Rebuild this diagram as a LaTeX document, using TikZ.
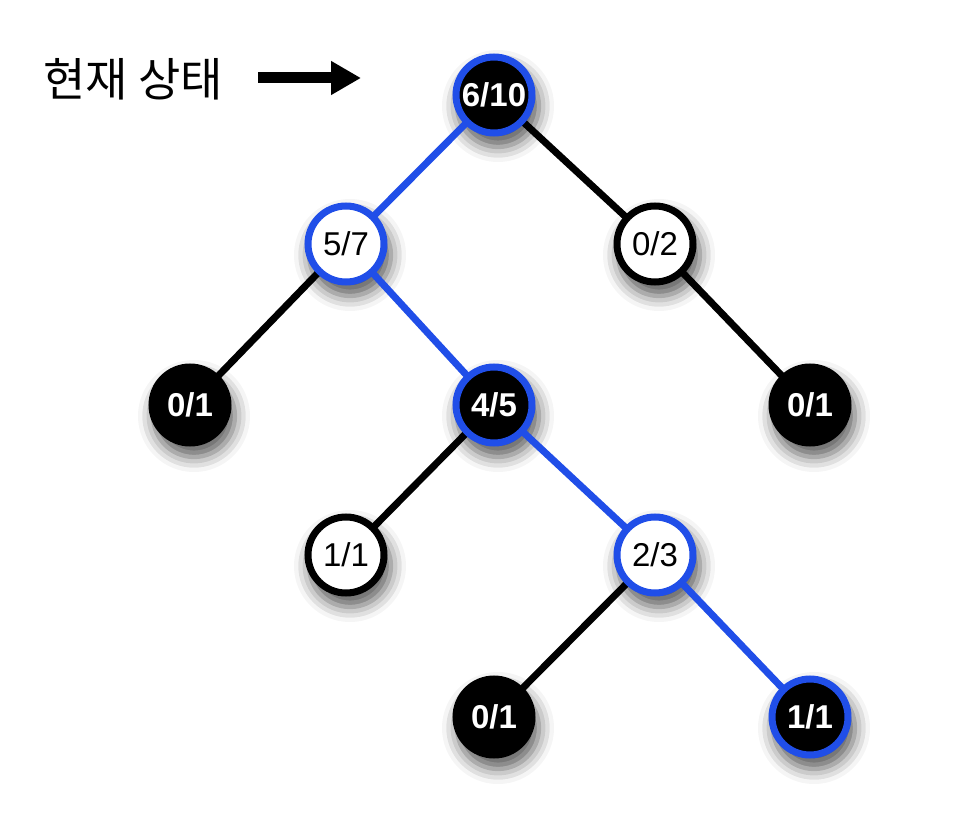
\documentclass[tikz,border=0pt]{standalone}
\usepackage{fontspec}
\setmainfont{Liberation Sans}
\newfontfamily\kor{Noto Sans CJK KR}
\usetikzlibrary{shadows.blur,arrows.meta,backgrounds}
\pgfdeclarelayer{shadowlayer}
\pgfdeclarelayer{edgelayer}
\pgfsetlayers{shadowlayer,edgelayer,main}
\definecolor{selblue}{RGB}{32,78,232}
\tikzset{
  x=1pt,y=-1pt,
  nd/.style={circle,minimum size=76pt,inner sep=0pt,line width=7pt,font=\fontsize{33}{33}\selectfont},
  sh/.style={circle,minimum size=82pt,inner sep=0pt,
    blur shadow={shadow xshift=4pt,shadow yshift=-11pt,shadow blur radius=15pt,shadow opacity=65}},
  bn/.style={nd,fill=black,draw=black,text=white,font=\fontsize{33}{33}\selectfont\bfseries},
  bbn/.style={bn,draw=selblue},
  wn/.style={nd,fill=white,draw=black,text=black},
  wbn/.style={wn,draw=selblue},
  edge/.style={line width=7pt,draw=black},
  bedge/.style={line width=7pt,draw=selblue},
}
\begin{document}
\begin{tikzpicture}
\useasboundingbox (0,0) rectangle (954,826);
\node[bbn] (r) at (494,95) {6/10};
\node[wbn] (a) at (346,244) {5/7};
\node[wn] (b) at (655,244) {0/2};
\node[bn] (c) at (190,405) {0/1};
\node[bbn] (d) at (494,405) {4/5};
\node[bn] (e) at (810,405) {0/1};
\node[wn] (f) at (346,555) {1/1};
\node[wbn] (g) at (655,555) {2/3};
\node[bn] (h) at (494,717) {0/1};
\node[bbn] (i) at (810,717) {1/1};
\begin{pgfonlayer}{shadowlayer}
\foreach \n in {r,a,b,c,d,e,f,g,h,i}{\node[sh] at (\n.center) {};}
\end{pgfonlayer}
\begin{pgfonlayer}{edgelayer}
\draw[bedge] (r.center) -- (a.center);
\draw[edge] (r.center) -- (b.center);
\draw[edge] (a.center) -- (c.center);
\draw[bedge] (a.center) -- (d.center);
\draw[edge] (b.center) -- (e.center);
\draw[edge] (d.center) -- (f.center);
\draw[bedge] (d.center) -- (g.center);
\draw[edge] (g.center) -- (h.center);
\draw[bedge] (g.center) -- (i.center);
\end{pgfonlayer}
\node[font=\kor\fontsize{46}{46}\selectfont,anchor=west,inner sep=0pt] (t) at (43,79) {현재 상태};
\coordinate (as) at (258,78);
\coordinate (ae) at (361,78);
\draw[line width=11pt,-{Triangle[length=30pt,width=32pt]}] (as) -- (ae);
\end{tikzpicture}
\end{document}
